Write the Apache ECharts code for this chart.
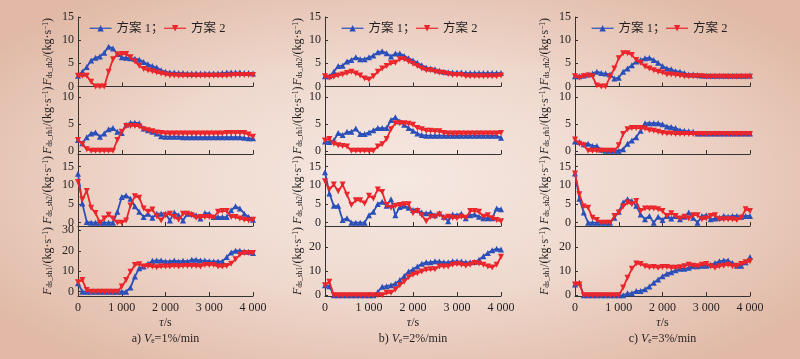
<!DOCTYPE html>
<html><head><meta charset="utf-8">
<script src="https://cdn.jsdelivr.net/npm/echarts/dist/echarts.min.js"></script>
<style>
html,body{margin:0;padding:0;}
#c{width:800px;height:359px;background:radial-gradient(ellipse 62% 64% at 50% 50%, #f5e8e2 0%, #efd9ce 50%, #e1b9a6 100%);}
</style></head><body><div id="c"></div>
<script>
// time axis (s)
const times = [0,100,200,300,400,500,600,700,800,900,1000,1100,1200,1300,1400,1500,1600,1700,1800,1900,2000,2100,2200,2300,2400,2500,2600,2700,2800,2900,3000,3100,3200,3300,3400,3500,3600,3700,3800,3900,4000];
const xTickLabels = ['0','1 000','2 000','3 000','4 000'];
const seriesNames = ['方案 1','方案 2'];
const rowKeys = ['rh2','rh1','sh2','sh1'];
const captions = [['a)','1%/min'],['b)','2%/min'],['c)','3%/min']];
const yTicksRow = [[0,5,10,15],[0,5,10],[0,5,10,15],[0,10,20,30]];
const yTicksRow4bc = [0,10,20];

// a) Ve = 1%/min
const a_rh2_1 = [2.3,3.2,4.2,5.6,6.2,6.5,7.3,8.6,8.2,7.0,6.3,6.2,6.1,6.0,5.8,5.3,4.8,4.4,4.1,3.5,3.2,3.0,3.0,2.9,2.9,2.8,2.8,2.8,2.8,2.8,2.8,2.8,2.8,2.9,3.0,3.0,3.0,3.0,2.9,2.9,2.8];
const a_rh2_2 = [2.3,2.3,2.3,1.0,0,0,0,3.2,5.9,6.9,7.0,7.0,6.3,5.4,4.5,3.8,3.5,3.3,3.0,2.8,2.6,2.4,2.4,2.3,2.3,2.3,2.3,2.3,2.3,2.3,2.3,2.3,2.3,2.3,2.3,2.4,2.5,2.5,2.5,2.5,2.5];
const a_rh1_1 = [2.0,1.4,2.5,3.2,3.4,2.6,3.2,4.0,4.2,3.5,3.3,4.8,5.2,5.2,5.1,4.1,3.8,3.5,3.2,2.7,2.6,2.6,2.6,2.6,2.5,2.5,2.5,2.5,2.5,2.5,2.5,2.5,2.5,2.5,2.5,2.5,2.5,2.5,2.4,2.3,2.3];
const a_rh1_2 = [2.0,1.2,0.3,0,0,0,0,0,0,2.0,3.5,4.6,4.6,4.6,4.5,4.0,3.8,3.6,3.4,3.3,3.2,3.2,3.2,3.2,3.2,3.2,3.2,3.2,3.2,3.2,3.2,3.2,3.2,3.2,3.3,3.3,3.3,3.3,3.3,3.0,2.6];
const a_sh2_1 = [13.1,5.1,0.2,0,0,0,0,0,0,2.9,6.9,7.3,6.4,4.4,2.9,1.5,2.4,1.3,2.4,2.4,2.4,0.6,2.7,2.0,0.6,2.4,2.4,2.0,1.1,2.6,2.4,1.5,1.5,1.5,1.5,3.3,4.4,3.8,2.4,1.5,0.8];
const a_sh2_2 = [10.9,6.2,8.5,4.0,2.6,0,1.1,2.1,1.1,0,0,0.6,4.6,7.1,6.7,3.8,2.9,3.5,1.7,0.6,2.0,2.4,1.5,0.8,2.4,2.4,2.0,1.3,1.5,1.5,1.5,1.3,2.9,3.1,3.1,1.5,1.5,1.1,0.8,0.6,0.8];
const a_sh1_1 = [4.1,0,0,0,0,0,0,0,0,0,0,0,2.1,7.4,11.5,12.3,13.6,15.1,15.3,15.2,14.8,14.8,15.2,14.8,15.1,14.8,15.6,15.6,15.3,15.2,14.9,14.8,14.8,14.8,16.9,19.2,20.0,20.0,19.7,19.5,18.9];
const a_sh1_2 = [4.6,5.7,0.8,0,0,0,0,0,0,0,2.5,5.7,9.8,13.1,13.4,12.3,12.6,12.3,12.0,12.3,12.3,12.3,12.6,12.3,12.6,12.6,12.6,12.6,12.3,13.1,13.1,13.1,12.3,12.3,12.6,13.6,15.9,18.0,18.9,18.9,18.9];

// b) Ve = 2%/min
const b_rh2_1 = [2.2,2.2,3.2,4.4,4.5,5.4,5.7,6.3,5.9,5.9,6.3,6.7,7.4,7.6,7.2,6.5,7.1,7.1,6.6,6.1,5.6,5.1,4.6,4.1,3.9,3.7,3.4,3.2,3.1,3.0,3.0,3.0,2.9,2.9,2.9,2.9,2.9,2.9,2.9,2.9,2.9];
const b_rh2_2 = [2.2,1.9,2.1,2.4,2.6,2.9,3.2,2.8,2.4,1.7,1.5,2.2,3.2,3.9,4.4,5.0,5.1,5.9,5.9,5.4,4.9,4.4,3.9,3.5,3.5,3.2,3.0,2.9,2.7,2.5,2.5,2.5,2.2,2.2,2.2,2.2,2.2,2.2,2.2,2.2,2.4];
const b_rh1_1 = [1.7,1.6,1.9,3.3,2.9,3.5,3.5,4.1,3.1,3.1,3.4,3.8,4.2,4.2,4.2,5.7,6.2,5.4,4.8,4.2,3.7,3.2,2.9,2.8,2.8,2.8,2.8,2.8,2.8,2.8,2.8,2.8,2.8,2.8,2.8,2.8,2.8,2.8,2.8,2.8,2.4];
const b_rh1_2 = [1.9,2.2,1.3,1.0,0.9,0.8,0,0,0,0,0,0,0.8,1.2,2.2,4.0,5.1,5.1,5.1,5.0,4.8,4.2,4.0,3.7,3.7,3.6,3.6,3.3,3.2,3.2,3.2,3.2,3.2,3.2,3.2,3.2,3.2,3.2,3.2,3.2,3.3];
const b_sh2_1 = [13.5,7.8,4.5,4.5,0.7,1.2,0,0,0,0,2.0,2.9,5.0,5.6,4.5,6.3,2.0,4.2,4.5,4.0,3.4,3.4,2.7,2.5,2.7,2.0,2.5,1.6,0.4,2.2,2.0,2.4,1.2,2.0,2.2,1.6,1.2,1.2,1.2,3.8,3.6];
const b_sh2_2 = [11.1,8.9,10.2,8.4,10.2,7.5,4.7,6.0,6.0,5.1,7.2,6.5,8.9,8.2,4.7,4.0,4.5,4.7,4.9,4.9,2.5,3.1,2.0,0.4,1.6,1.6,2.2,1.2,1.6,1.3,1.2,1.6,1.3,3.1,3.1,2.9,1.6,2.0,1.2,0.7,0.4];
const b_sh1_1 = [4.2,3.8,0,0,0,0,0,0,0,0,0,0,1.4,3.5,3.8,4.2,4.9,6.3,8.0,9.9,10.8,12.0,13.1,13.7,13.7,14.1,14.0,13.7,13.7,14.1,14.1,14.0,13.7,13.7,13.8,14.8,16.2,17.6,18.7,19.3,19.0];
const b_sh1_2 = [4.2,5.6,0,0,0,0,0,0,0,0,0,0,0,0,1.0,1.0,2.4,4.2,5.6,7.5,8.5,9.2,9.9,10.6,10.8,10.8,12.0,12.0,12.0,12.7,13.0,12.7,12.3,12.7,13.4,13.2,12.7,12.0,11.5,12.7,16.0];

// c) Ve = 3%/min
const c_rh2_1 = [2.2,2.2,2.4,2.6,2.8,3.2,2.9,2.8,2.6,1.7,1.9,3.2,3.9,4.6,5.4,5.7,6.1,6.2,5.7,5.1,4.4,3.9,3.7,3.3,3.2,2.9,2.6,2.6,2.5,2.4,2.3,2.3,2.3,2.3,2.3,2.3,2.3,2.3,2.3,2.3,2.4];
const c_rh2_2 = [2.2,1.9,2.2,2.4,2.2,0.2,0,0,2.1,3.9,6.1,7.2,7.2,6.8,5.7,5.1,4.3,3.9,3.5,3.2,3.0,2.6,2.6,2.5,2.4,2.2,2.2,2.2,2.2,2.2,2.1,2.1,2.1,2.1,2.1,2.1,2.1,2.1,2.1,2.1,2.1];
const c_rh1_1 = [1.7,1.6,1.2,1.3,0.9,0.9,0.2,0,0,0,0,0.3,1.3,1.9,2.5,3.7,5.1,5.1,5.1,5.1,4.9,4.5,4.4,4.2,3.8,3.7,3.6,3.5,3.2,3.2,3.2,3.2,3.2,3.2,3.2,3.2,3.2,3.2,3.2,3.2,3.2];
const c_rh1_2 = [2.1,1.3,1.0,0,0,0,0,0,0,0,1.0,3.1,4.0,4.2,4.2,4.2,4.1,3.8,3.7,3.5,3.3,3.2,3.2,3.1,3.1,3.1,3.1,3.1,3.1,3.1,3.1,3.1,3.1,3.1,3.1,3.1,3.1,3.1,3.1,3.1,3.1];
const c_sh2_1 = [13.2,6.4,2.7,0,0,0,0,0,0,1.3,2.9,5.4,6.3,5.8,4.5,2.2,0.9,1.8,0,1.6,0.7,1.8,1.1,1.8,0.9,1.6,2.7,1.3,0,1.8,2.0,0.9,1.1,1.3,1.8,1.6,1.8,1.8,1.6,1.8,1.8];
const c_sh2_2 = [13.2,7.6,4.3,4.0,1.3,0.7,0,0,0,1.8,2.7,4.3,5.4,4.9,5.8,3.1,3.8,3.8,3.8,3.6,3.1,1.8,2.5,1.8,1.1,1.6,1.1,2.0,2.0,0.9,1.1,1.8,2.0,0.9,0.9,0.9,0.9,0.7,1.3,3.6,3.1];
const c_sh1_1 = [4.5,5.2,0,0,0,0,0,0,0,0,0,0,0.8,0.8,1.8,1.8,2.5,3.6,5.2,6.6,7.9,9.0,9.6,10.4,11.0,11.0,11.4,12.1,12.1,12.3,12.3,12.7,13.4,14.1,14.5,14.5,13.4,12.3,12.3,13.7,15.9];
const c_sh1_2 = [4.5,4.5,0,0,0,0,0,0,0,0,0,3.2,7.3,11.0,13.2,13.0,12.1,11.6,11.8,11.4,11.8,11.8,11.4,11.4,11.6,12.1,12.7,12.3,12.1,12.7,13.0,12.1,11.4,12.1,12.3,12.7,12.1,12.3,13.0,13.7,14.1];

const panels = [
  [[a_rh2_1,a_rh2_2],[a_rh1_1,a_rh1_2],[a_sh2_1,a_sh2_2],[a_sh1_1,a_sh1_2]],
  [[b_rh2_1,b_rh2_2],[b_rh1_1,b_rh1_2],[b_sh2_1,b_sh2_2],[b_sh1_1,b_sh1_2]],
  [[c_rh2_1,c_rh2_2],[c_rh1_1,c_rh1_2],[c_sh2_1,c_sh2_2],[c_sh1_1,c_sh1_2]]
];

// layout
const colLeft = [78, 325, 575];
const colWidth = [175, 176, 175];
const rowTop = [17, 86.5, 154, 226];
const rowHeight = [69.5, 67.5, 72, 70];
const yRange = [[0,15],[-0.6,11.9],[-0.9,18.4],[-2.1,32.1]];
const yRange4bc = [-0.3, 28.8];
const nameGaps = [24, 21, 24];
const legendLeft = [84, 336, 586];
const colors = ['#2b4fb8', '#ea252b'];
const serif = "'Liberation Serif','Times New Roman',serif";
const cjk = "'Liberation Serif','Noto Sans CJK SC',serif";
const txt = '#231f20';

const grids = [], xAxes = [], yAxes = [], series = [], legends = [], graphics = [];
const nameRich = {
  i: {fontStyle:'italic', fontSize:12, fontFamily:serif, color:txt},
  b: {fontSize:12, fontFamily:serif, color:txt},
  sub: {fontSize:7.5, fontFamily:serif, color:txt, verticalAlign:'bottom', padding:[4,0,0,0]},
  sup: {fontSize:7.5, fontFamily:serif, color:txt, verticalAlign:'top', padding:[0,0,4,0]}
};
for (let c = 0; c < 3; c++) {
  for (let r = 0; r < 4; r++) {
    const idx = grids.length;
    grids.push({left: colLeft[c], top: rowTop[r], width: colWidth[c], height: rowHeight[r], containLabel:false, outerBoundsMode:'none'});
    const bottom = r === 3;
    xAxes.push({
      type:'value', gridIndex: idx, min:0, max:4000, interval:1000,
      axisLine:{show:true, onZero:false, lineStyle:{color:'#333', width:1}},
      axisTick:{show:true, inside:true, length:4, lineStyle:{color:'#333'}},
      splitLine:{show:false},
      axisLabel:{show:bottom, margin:6, fontSize:12, fontFamily:serif, color:txt, formatter: v => xTickLabels[Math.round(v/1000)]},
      name: bottom ? '{i|τ}{b|/s}' : '', nameLocation:'middle', nameGap:21,
      nameTextStyle:{rich:nameRich, fontFamily:serif, fontSize:12, color:txt}
    });
    const rng = (r === 3 && c > 0) ? yRange4bc : yRange[r];
    const ticks = (r === 3 && c > 0) ? yTicksRow4bc : yTicksRow[r];
    yAxes.push({
      type:'value', gridIndex: idx, min: rng[0], max: rng[1],
      axisLine:{show:true, lineStyle:{color:'#333', width:1}},
      axisTick:{show:true, inside:true, length:3, customValues: ticks, lineStyle:{color:'#333'}},
      splitLine:{show:false},
      axisLabel:{margin:4, fontSize:12, fontFamily:serif, color:txt, customValues: ticks},
      name:'{i|F}{sub|ds_' + rowKeys[r] + '}{b|/(kg·s}{sup|−1}{b|)}',
      nameLocation:'middle', nameRotate:90, nameGap: nameGaps[c],
      nameTextStyle:{rich:nameRich, fontFamily:serif, fontSize:12, color:txt}
    });
    for (let s = 0; s < 2; s++) {
      const vals = panels[c][r][s];
      series.push({
        type:'line', name: seriesNames[s], xAxisIndex: idx, yAxisIndex: idx,
        data: times.map((t,i) => [t, vals[i]]),
        symbol:'triangle', symbolSize:6, symbolRotate: s === 0 ? 0 : 180,
        showAllSymbol:true, clip:false,
        lineStyle:{width:1.8, color:colors[s]}, itemStyle:{color:colors[s]},
        animation:false, z: 2 + s
      });
    }
  }
  legends.push({
    left: legendLeft[c], top: 17, orient:'horizontal', itemWidth:22, itemHeight:8, itemGap:0,
    selectedMode:false, data: seriesNames,
    lineStyle:{width:1.2},
    formatter: n => n === seriesNames[0] ? n + '；' : n,
    textStyle:{fontSize:12.5, fontFamily:cjk, color:txt}
  });
  graphics.push({
    type:'text', x: colLeft[c] + colWidth[c]/2, y: 339,
    style:{
      text: captions[c][0] + ' {i|V}{sub|e}{b|=' + captions[c][1] + '}',
      rich: nameRich, fontSize:12, fontFamily:serif, fill:txt, align:'center', verticalAlign:'middle'
    }
  });
}

const chart = echarts.init(document.getElementById('c'), null, {renderer:'canvas'});
chart.setOption({
  backgroundColor:'transparent',
  animation:false,
  textStyle:{fontFamily:serif},
  grid: grids, xAxis: xAxes, yAxis: yAxes, series: series, legend: legends, graphic: graphics
});
</script></body></html>
